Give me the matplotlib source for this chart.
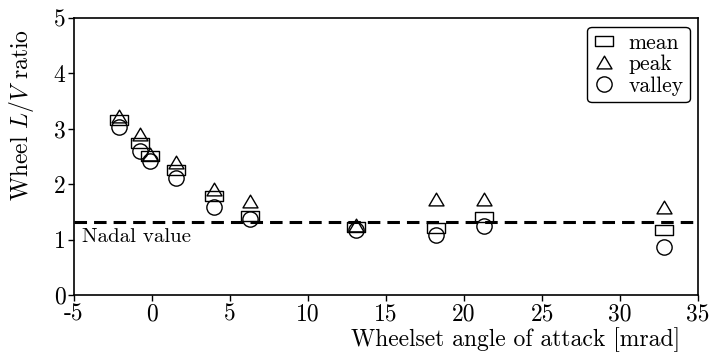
import numpy as np
import matplotlib
matplotlib.use('Agg')
import matplotlib.pyplot as plt
from matplotlib.path import Path
from matplotlib.lines import Line2D

plt.rcParams.update({
    'font.family': 'serif',
    'font.serif': ['cmr10'],
    'mathtext.fontset': 'cm',
    'axes.unicode_minus': False,
    'axes.formatter.use_mathtext': True,
})

# ---- Data ----
angle = [-2.1, -0.75, -0.15, 1.55, 3.95, 6.3, 13.1, 18.2, 21.3, 32.8]
lv_mean = [3.16, 2.74, 2.50, 2.25, 1.79, 1.43, 1.22, 1.20, 1.40, 1.17]
lv_peak = [3.21, 2.88, 2.52, 2.38, 1.90, 1.68, 1.24, 1.71, 1.71, 1.57]
lv_valley = [3.03, 2.59, 2.42, 2.12, 1.59, 1.38, 1.17, 1.09, 1.24, 0.87]
nadal = 1.32
xticks = [-5, 0, 5, 10, 15, 20, 25, 30, 35]
yticks = [0, 1, 2, 3, 4, 5]

# rectangle / flattened triangle like the source figure
RECT = Path([(-1, -0.57), (1, -0.57), (1, 0.57), (-1, 0.57), (-1, -0.57)],
            [Path.MOVETO, Path.LINETO, Path.LINETO, Path.LINETO, Path.CLOSEPOLY])
TRI = Path([(-1, -0.72), (1, -0.72), (0, 0.98), (-1, -0.72)],
           [Path.MOVETO, Path.LINETO, Path.LINETO, Path.CLOSEPOLY])

fig = plt.figure(figsize=(7.11, 3.52), dpi=100)
ax = fig.add_axes([0.104, 0.162, 0.878, 0.787])

mk = dict(linestyle='none', mfc='none', mec='black', mew=1.0)
ax.plot(angle, lv_mean, marker=RECT, ms=12.7, **mk)
ax.plot(angle, lv_peak, marker=TRI, ms=10.8, **mk)
ax.plot(angle, lv_valley, marker='o', ms=11.0, **mk)

ax.axhline(nadal, color='black', lw=2.2, linestyle=(0, (4.1, 2.3)))
ax.text(-4.5, 1.05, 'Nadal value', fontsize=15, ha='left', va='center')

ax.set_xlim(-5, 35)
ax.set_ylim(0, 5)
ax.set_xticks(xticks)
ax.set_xticklabels([str(t) for t in xticks])
ax.set_yticks(yticks)
ax.set_yticklabels([str(t) for t in yticks])
ax.tick_params(labelsize=17, direction='out', length=4, width=1.0, pad=2)
for sp in ax.spines.values():
    sp.set_linewidth(1.2)

ax.set_xlabel('Wheelset angle of attack [mrad]', fontsize=17)
ax.xaxis.set_label_coords(0.707, -0.117)
ax.set_ylabel('Wheel $L/V$ ratio', fontsize=17)
ax.yaxis.set_label_coords(-0.06, 0.65)

handles = [
    Line2D([], [], marker=RECT, ms=12.7, **mk),
    Line2D([], [], marker=TRI, ms=10.8, **mk),
    Line2D([], [], marker='o', ms=11.0, **mk),
]
leg = ax.legend(handles, ['mean', 'peak', 'valley'], loc='upper right',
                fontsize=15.5, frameon=True, fancybox=True, framealpha=1.0,
                edgecolor='black', handlelength=1.0, handletextpad=0.6,
                labelspacing=0.1, borderpad=0.3, borderaxespad=0.4)
leg.get_frame().set_linewidth(1.0)

fig.savefig('out.png', dpi=100, facecolor='white')
